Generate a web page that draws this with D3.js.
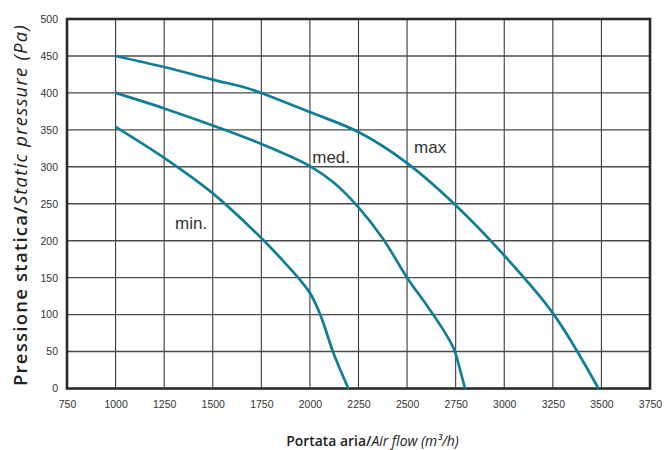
<!DOCTYPE html>
<html>
<head>
<meta charset="utf-8">
<script src="https://cdn.jsdelivr.net/npm/d3@7"></script>
<style>
  html, body { margin: 0; padding: 0; background: #fff; }
  svg { display: block; }
</style>
</head>
<body>
<svg id="chart" width="666" height="450"></svg>
<script>
// Fan curves: static pressure (Pa) vs air flow (m³/h) at three speeds
const xTicks = [750, 1000, 1250, 1500, 1750, 2000, 2250, 2500, 2750, 3000, 3250, 3500, 3750];
const yTicks = [0, 50, 100, 150, 200, 250, 300, 350, 400, 450, 500];

const maxCurve = [
  [1000, 450], [1250, 435], [1500, 418], [1670, 407], [1750, 400], [2000, 374],
  [2250, 347], [2500, 305], [2750, 248], [3000, 180], [3250, 102], [3485, 0]
];
const medCurve = [
  [1000, 400], [1250, 379], [1500, 356], [1750, 331], [2000, 301], [2125, 278],
  [2250, 245], [2375, 203], [2500, 150], [2600, 113], [2680, 82], [2740, 54],
  [2772, 26], [2798, 0]
];
const minCurve = [
  [1000, 354], [1250, 312], [1500, 264], [1752, 203], [1882, 167], [1949, 147],
  [2001, 129], [2044, 106], [2070, 88], [2121, 48], [2198, 0]
];

const curveLabels = [
  { text: "min.", x: 1306, y: 216 },
  { text: "med.", x: 2012, y: 305 },
  { text: "max", x: 2536, y: 319 }
];

const W = 666, H = 450;
const margin = { top: 19, right: 16, bottom: 61.5, left: 67 };

const svg = d3.select("#chart");
const x = d3.scaleLinear().domain([750, 3750]).range([margin.left, W - margin.right]);
const y = d3.scaleLinear().domain([0, 500]).range([H - margin.bottom, margin.top]);

const ink = "#2a2a2a";
const teal = "#117e96";
const tickFont = "Liberation Sans, Arial, sans-serif";

// grid
const grid = svg.append("g");
grid.selectAll("line.v").data(xTicks.slice(1, -1)).join("line")
  .attr("class", "v")
  .attr("x1", d => x(d)).attr("x2", d => x(d))
  .attr("y1", y(500)).attr("y2", y(0))
  .attr("stroke", "#3a3a3a").attr("stroke-width", 1.1);
grid.selectAll("line.h").data(yTicks.slice(1, -1)).join("line")
  .attr("class", "h")
  .attr("x1", x(750)).attr("x2", x(3750))
  .attr("y1", d => y(d)).attr("y2", d => y(d))
  .attr("stroke", "#4a4a4a").attr("stroke-width", 1.4);

// axes (labels only, frame drawn separately)
const xAxis = d3.axisBottom(x).tickValues(xTicks).tickFormat(d3.format("d"))
  .tickSize(0).tickPadding(12);
svg.append("g")
  .attr("transform", `translate(0,${y(0)})`)
  .call(xAxis)
  .call(g => g.select(".domain").remove())
  .call(g => g.selectAll("text")
    .attr("font-family", tickFont).attr("font-size", 10.5).attr("fill", "#333"));

const yAxis = d3.axisLeft(y).tickValues(yTicks).tickFormat(d3.format("d"))
  .tickSize(0).tickPadding(9);
svg.append("g")
  .attr("transform", `translate(${x(750)},0)`)
  .call(yAxis)
  .call(g => g.select(".domain").remove())
  .call(g => g.selectAll("text")
    .attr("font-family", tickFont).attr("font-size", 10.5).attr("fill", "#333"));

// frame
svg.append("rect")
  .attr("x", x(750)).attr("y", y(500))
  .attr("width", x(3750) - x(750)).attr("height", y(0) - y(500))
  .attr("fill", "none").attr("stroke", ink).attr("stroke-width", 2.6);

// curves
const line = d3.line()
  .x(d => x(d[0])).y(d => y(d[1]))
  .curve(d3.curveCatmullRom.alpha(0.5));

svg.append("g").selectAll("path")
  .data([maxCurve, medCurve, minCurve]).join("path")
  .attr("d", line)
  .attr("fill", "none")
  .attr("stroke", teal)
  .attr("stroke-width", 2.7)
  .attr("stroke-linecap", "butt");

// curve labels
svg.append("g").selectAll("text")
  .data(curveLabels).join("text")
  .attr("x", d => x(d.x)).attr("y", d => y(d.y))
  .attr("font-family", tickFont)
  .attr("font-size", 17).attr("fill", "#333")
  .text(d => d.text);

// axis titles
const titleFont = "Open Sans, Noto Sans, sans-serif";
const xt = svg.append("text")
  .attr("x", 372.5).attr("y", 446)
  .attr("text-anchor", "middle")
  .attr("font-family", titleFont).attr("font-size", 13.9).attr("fill", "#222");
xt.append("tspan").attr("font-weight", 600).text("Portata aria/");
xt.append("tspan").attr("font-style", "italic").text("Air flow (m³/h)");

const yt = svg.append("text")
  .attr("transform", "translate(27,205) rotate(-90)")
  .attr("text-anchor", "middle")
  .attr("font-family", titleFont).attr("font-size", 18.5).attr("fill", "#222");
yt.append("tspan").attr("font-weight", 600).text("Pressione statica/");
yt.append("tspan").attr("font-style", "italic").text("Static pressure (Pa)");

// spread the vertical title along the full height of the plot
const ytLen = yt.node().getComputedTextLength();
const ytChars = yt.text().length;
const ytTarget = 362;
if (ytLen < ytTarget) yt.attr("letter-spacing", (ytTarget - ytLen) / ytChars);
</script>
</body>
</html>
